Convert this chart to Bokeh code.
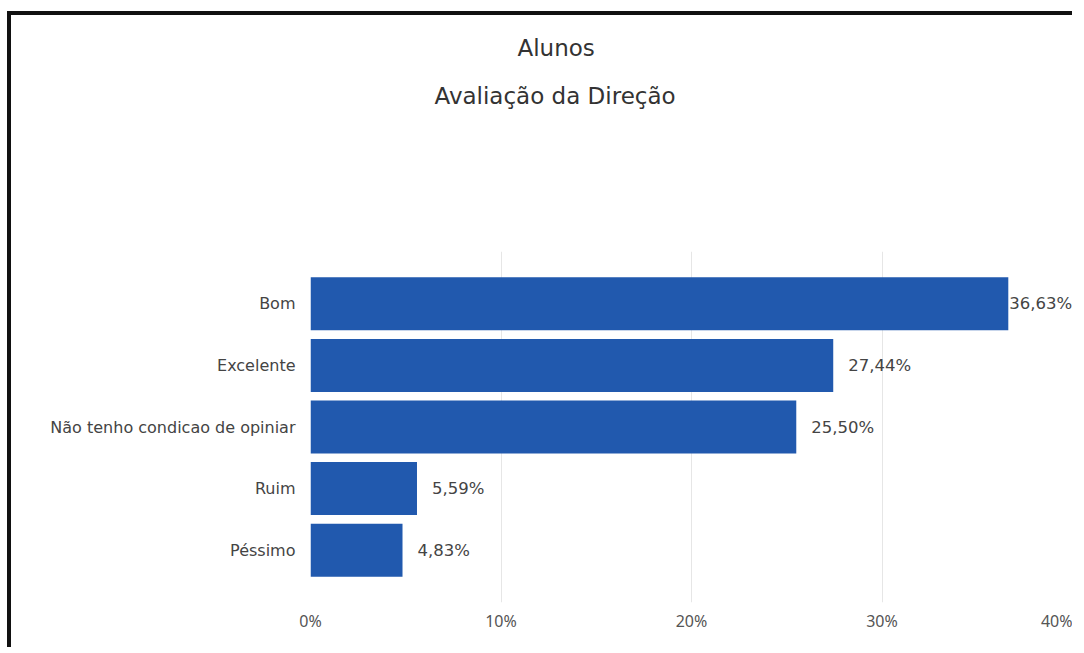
from bokeh.plotting import figure
from bokeh.models import FactorRange, Range1d, ColumnDataSource, Title, FixedTicker, CustomJSTickFormatter
from bokeh.core.properties import value
from bokeh.embed import file_html
from bokeh.resources import INLINE

title_lines = ["Alunos", "Avaliação da Direção"]
categories = ["Bom", "Excelente", "Não tenho condicao de opiniar", "Ruim", "Péssimo"]
percent = [36.63, 27.44, 25.50, 5.59, 4.83]
x_ticks = [0, 10, 20, 30, 40]

labels = [f"{v:.2f}%".replace(".", ",") for v in percent]
offsets = [1 if v > 35 else 15 for v in percent]

src = ColumnDataSource(dict(cat=categories, val=percent, lab=labels, off=offsets))

W, H = 1065, 636
p = figure(
    width=W, height=H,
    y_range=FactorRange(factors=list(reversed(categories)), range_padding=0.14),
    x_range=Range1d(0, 40),
    output_backend="svg", toolbar_location=None,
    min_border_left=299, min_border_right=4, min_border_top=0, min_border_bottom=49,
)
p.styles = {"border-left": "4px solid #111", "border-top": "4px solid #111",
            "margin-left": "7px", "margin-top": "11px"}
p.outline_line_color = None
p.background_fill_color = "white"
p.border_fill_color = "white"

p.hbar(y="cat", right="val", left=0, height=0.86, source=src,
       fill_color="#2159ae", line_color=None)

p.text(x="val", y="cat", text="lab", source=src, x_offset="off",
       text_baseline="middle", text_align="left",
       text_font=value("DejaVu Sans"), text_font_size="16.5px", text_color="#444444")

p.xaxis.ticker = FixedTicker(ticks=x_ticks)
p.xaxis.formatter = CustomJSTickFormatter(code="return tick + '%';")
p.xaxis.axis_line_color = None
p.xaxis.major_tick_line_color = None
p.xaxis.minor_tick_line_color = None
p.xaxis.major_tick_out = 0
p.xaxis.minor_tick_out = 0
p.xaxis.major_label_standoff = 7
p.xaxis.major_label_text_font = "Noto Sans"
p.xaxis.major_label_text_font_size = "16px"
p.xaxis.major_label_text_color = "#555555"

p.yaxis.axis_line_color = None
p.yaxis.major_tick_line_color = None
p.yaxis.minor_tick_line_color = None
p.yaxis.major_tick_out = 0
p.yaxis.major_label_standoff = 15
p.yaxis.major_label_text_font = "DejaVu Sans"
p.yaxis.major_label_text_font_size = "16px"
p.yaxis.major_label_text_color = "#444444"

p.ygrid.grid_line_color = None
p.xgrid.ticker = FixedTicker(ticks=x_ticks)
p.xgrid.grid_line_color = "#e6e6e6"
p.xgrid.grid_line_width = 1

# Titles stacked above the frame: first added sits nearest the frame
spacer = Title(text=" ", text_font_size="10px", standoff=127, align="left")
sub = Title(text=title_lines[1], text_font="DejaVu Sans", text_font_size="23px",
            text_color="#333333", text_font_style="normal", align="left", offset=124,
            vertical_align="middle", standoff=3)
main = Title(text=title_lines[0], text_font="DejaVu Sans", text_font_size="23px",
             text_color="#333333", text_font_style="normal", align="left", offset=207,
             vertical_align="middle", standoff=37)
p.add_layout(spacer, "above")
p.add_layout(sub, "above")
p.add_layout(main, "above")

open("out.html", "w").write(file_html(p, INLINE))
